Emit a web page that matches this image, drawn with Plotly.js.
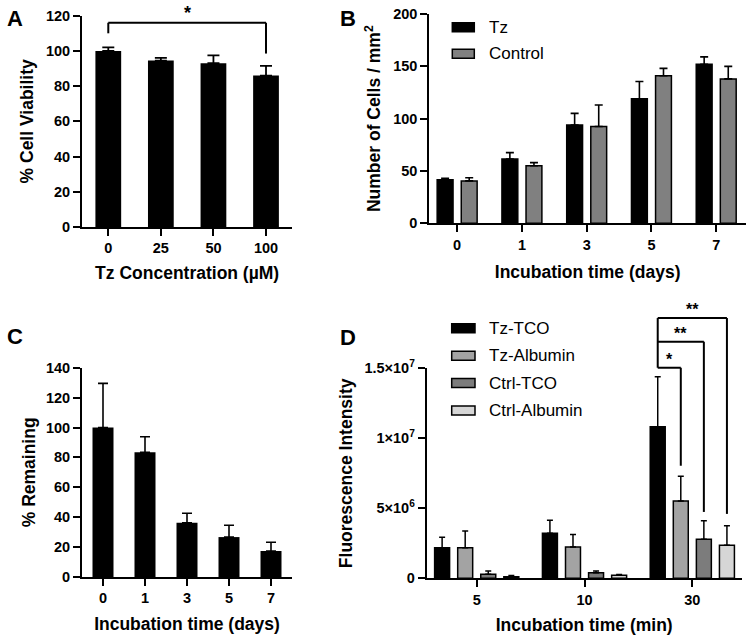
<!DOCTYPE html>
<html><head><meta charset="utf-8">
<script src="https://cdn.plot.ly/plotly-3.0.1.min.js"></script>
<style>html,body{margin:0;padding:0;background:#fff}#chart{width:750px;height:641px}</style>
</head><body><div id="chart"></div>
<script>
// ---------- Panel A: cell viability ----------
const concLabels = ['0', '25', '50', '100'];
const viability = [100, 94.5, 93, 86];
const viabilityErr = [2, 1.5, 4.5, 5.5];
// significance bracket A: [fromIndex, toIndex, level, leftLegEnd, rightLegEnd, label]
const sigA = [[0, 3, 116, 110, 98.5, '*']];

// ---------- Panel B: number of cells ----------
const daysLabels = ['0', '1', '3', '5', '7'];
const seriesB = ['Tz', 'Control'];
const cellsTz = [41.5, 61.5, 94, 119, 152];
const cellsTzErr = [1.5, 6, 11, 16.5, 7];
const cellsCtrl = [40.5, 55, 92.5, 141, 138];
const cellsCtrlErr = [3, 3, 20.5, 7, 12];

// ---------- Panel C: % remaining ----------
const remaining = [100, 83.4, 36.3, 26.7, 17.4];
const remainingErr = [29.5, 10.4, 6.3, 7.9, 5.8];

// ---------- Panel D: fluorescence ----------
const minLabels = ['5', '10', '30'];
const seriesD = ['Tz-TCO', 'Tz-Albumin', 'Ctrl-TCO', 'Ctrl-Albumin'];
const tzTco = [2.19e6, 3.21e6, 10.83e6];
const tzTcoErr = [0.74e6, 0.93e6, 3.57e6];
const tzAlb = [2.19e6, 2.24e6, 5.52e6];
const tzAlbErr = [1.19e6, 0.88e6, 1.77e6];
const ctrlTco = [0.29e6, 0.40e6, 2.79e6];
const ctrlTcoErr = [0.23e6, 0.12e6, 1.32e6];
const ctrlAlb = [0.11e6, 0.21e6, 2.36e6];
const ctrlAlbErr = [0.09e6, 0.06e6, 1.40e6];
const dTickVals = [0, 5e6, 1e7, 1.5e7];
const dTickText = ['0', '5×10<sup>6</sup>', '1×10<sup>7</sup>', '1.5×10<sup>7</sup>'];
// significance brackets D (in group '30'): [fromSeries, toSeries, level, rightLegEnd, label]
const sigD = [[0, 1, 15.04e6, 8.04e6, '*'], [0, 2, 16.9e6, 4.74e6, '**'], [0, 3, 18.59e6, 4.6e6, '**']];

// ---------- styling / layout ----------
const F = 'Liberation Sans, Arial, Helvetica, sans-serif';
const W = 750, H = 641;
const px = v => v / W;
const py = v => 1 - v / H;
const zeros = a => a.map(() => 0);

const colorsB = ['#000000', '#808080'];
const colorsD = ['#000000', '#a3a3a3', '#7c7c7c', '#d6d6d6'];

function errY(arr, w, th) {
  return {type: 'data', array: arr, arrayminus: zeros(arr), symmetric: false,
          visible: true, color: '#000', thickness: th, width: w};
}
function xAx(dom, anchor, labels, range, title, standoff) {
  return {domain: dom, anchor: anchor, type: 'category', categoryorder: 'array', categoryarray: labels,
    range: range, showline: true, linecolor: '#000', linewidth: 2, ticks: 'outside',
    ticklen: 7, tickwidth: 2, tickcolor: '#000', showgrid: false, zeroline: false,
    fixedrange: true, automargin: false,
    tickfont: {family: F, size: 14.5, color: '#000', weight: 'bold'},
    title: {text: title, standoff: standoff, font: {family: F, size: 17.5, color: '#000', weight: 'bold'}}};
}
function yAx(dom, anchor, range, extra, title, standoff) {
  return Object.assign({domain: dom, anchor: anchor, range: range, showline: true, linecolor: '#000',
    linewidth: 2, ticks: 'outside', ticklen: 7, tickwidth: 2, tickcolor: '#000',
    showgrid: false, zeroline: false, fixedrange: true, automargin: false,
    tickfont: {family: F, size: 14.5, color: '#000', weight: 'bold'},
    title: {text: title, standoff: standoff, font: {family: F, size: 17.5, color: '#000', weight: 'bold'}}}, extra);
}

const rangeA = [-0.5, 3.5], rangeB = [-0.43, 4.46], rangeC = [-0.5, 4.5], rangeD = [-0.464, 2.458];
const yRangeA = [0, 120], yRangeB = [0, 200], yRangeC = [0, 140], yRangeD = [0, 1.5e7];

// bar geometry (category units)
const wA = 0.49, wC = 0.5;
const wB = 0.245, centersB = [-0.186, 0.186];
const wD = 0.139, slotD = 0.214;
const centersD = seriesD.map((_, k) => (k - 1.5) * slotD);

const traces = [];
traces.push({type: 'bar', x: concLabels, y: viability, xaxis: 'x', yaxis: 'y', width: wA,
  marker: {color: '#000', line: {width: 0}}, error_y: errY(viabilityErr, 6, 1.8)});

const dataB = [[cellsTz, cellsTzErr], [cellsCtrl, cellsCtrlErr]];
dataB.forEach((d, k) => traces.push({type: 'bar', name: seriesB[k], x: daysLabels, y: d[0],
  xaxis: 'x2', yaxis: 'y2', width: wB, offset: centersB[k] - wB / 2,
  marker: {color: colorsB[k], line: {color: '#000', width: 1.5}}, error_y: errY(d[1], 4, 1.6)}));

traces.push({type: 'bar', x: daysLabels, y: remaining, xaxis: 'x3', yaxis: 'y3', width: wC,
  marker: {color: '#000', line: {width: 0}}, error_y: errY(remainingErr, 5, 1.6)});

const dataD = [[tzTco, tzTcoErr], [tzAlb, tzAlbErr], [ctrlTco, ctrlTcoErr], [ctrlAlb, ctrlAlbErr]];
dataD.forEach((d, k) => traces.push({type: 'bar', name: seriesD[k], x: minLabels, y: d[0],
  xaxis: 'x4', yaxis: 'y4', width: wD, offset: centersD[k] - wD / 2,
  marker: {color: colorsD[k], line: {color: '#000', width: 1.5}}, error_y: errY(d[1], 3, 1.5)}));

const shapes = [], annotations = [];
const line = (xref, yref, x0, y0, x1, y1) => shapes.push({type: 'line', xref, yref, x0, y0, x1, y1,
  line: {color: '#000', width: 2}});

// Panel A significance
const domA = p => (p - rangeA[0]) / (rangeA[1] - rangeA[0]);
sigA.forEach(s => {
  const x0 = domA(s[0]), x1 = domA(s[1]), yl = s[2] / yRangeA[1];
  line('x domain', 'y domain', x0, yl, x1, yl);
  line('x domain', 'y domain', x0, yl, x0, s[3] / yRangeA[1]);
  line('x domain', 'y domain', x1, yl, x1, s[4] / yRangeA[1]);
  annotations.push({xref: 'x domain', yref: 'y domain', x: (x0 + x1) / 2, y: yl, text: s[5],
    showarrow: false, xanchor: 'center', yanchor: 'bottom', yshift: -2,
    font: {family: F, size: 18, color: '#000', weight: 'bold'}});
});

// Panel D significance (group '30')
const domD = p => (p - rangeD[0]) / (rangeD[1] - rangeD[0]);
const g30 = minLabels.indexOf('30');
const levels = sigD.map(s => s[2]);
const xLeft = domD(g30 + centersD[0]);
line('x4 domain', 'y4 domain', xLeft, Math.min(...levels) / yRangeD[1], xLeft, Math.max(...levels) / yRangeD[1]);
sigD.forEach(s => {
  const xr = domD(g30 + centersD[s[1]]), yl = s[2] / yRangeD[1];
  line('x4 domain', 'y4 domain', xLeft, yl, xr, yl);
  line('x4 domain', 'y4 domain', xr, yl, xr, s[3] / yRangeD[1]);
  annotations.push({xref: 'x4 domain', yref: 'y4 domain', x: (xLeft + xr) / 2, y: yl, text: s[4],
    showarrow: false, xanchor: 'center', yanchor: 'bottom', yshift: -2,
    font: {family: F, size: 16, color: '#000', weight: 'bold'}});
});

// Manual legends
function legend(names, colors, boxX0, boxX1, rowY0, rowStep, textX) {
  names.forEach((n, k) => {
    const yc = rowY0 + k * rowStep;
    shapes.push({type: 'rect', xref: 'paper', yref: 'paper', x0: px(boxX0), x1: px(boxX1),
      y0: py(yc + 4.5), y1: py(yc - 4.5), fillcolor: colors[k], line: {color: '#000', width: 1.5}});
    annotations.push({xref: 'paper', yref: 'paper', x: px(textX), y: py(yc), text: n, showarrow: false,
      xanchor: 'left', yanchor: 'middle', font: {family: F, size: 17, color: '#000'}});
  });
}
legend(seriesB, colorsB, 452.3, 474.3, 27.2, 26.5, 487);
legend(seriesD, colorsD, 451.7, 475, 328.3, 27.4, 486.5);

// Panel letters
[['A', 15, 18], ['B', 348, 18], ['C', 15, 336], ['D', 348, 338]].forEach(l => annotations.push({
  xref: 'paper', yref: 'paper', x: px(l[1]), y: py(l[2]), text: l[0], showarrow: false,
  xanchor: 'center', yanchor: 'middle', font: {family: F, size: 22, color: '#000', weight: 'bold'}}));

const layout = {
  width: W, height: H, margin: {l: 0, r: 0, t: 0, b: 0, pad: 0},
  paper_bgcolor: '#fff', plot_bgcolor: '#fff', showlegend: false, barmode: 'overlay',
  font: {family: F, color: '#000'},
  xaxis: xAx([px(82), px(292.3)], 'y', concLabels, rangeA, 'Tz Concentration (µM)', 11),
  yaxis: yAx([py(227), py(15.7)], 'x', yRangeA, {dtick: 20, tick0: 0}, '% Cell Viability', 8),
  xaxis2: xAx([px(429.3), px(746)], 'y2', daysLabels, rangeB, 'Incubation time (days)', 14),
  yaxis2: yAx([py(223.3), py(14)], 'x2', yRangeB, {dtick: 50, tick0: 0}, 'Number of Cells / mm<sup>2</sup>', 8),
  xaxis3: xAx([px(82), px(292)], 'y3', daysLabels, rangeC, 'Incubation time (days)', 12),
  yaxis3: yAx([py(577), py(367.7)], 'x3', yRangeC, {dtick: 20, tick0: 0}, '% Remaining', 6),
  xaxis4: xAx([px(426.7), px(741.7)], 'y4', minLabels, rangeD, 'Incubation time (min)', 12),
  yaxis4: yAx([py(578.3), py(368.3)], 'x4', yRangeD, {tickmode: 'array', tickvals: dTickVals, ticktext: dTickText}, 'Fluorescence Intensity', 7),
  shapes: shapes, annotations: annotations
};

Plotly.newPlot('chart', traces, layout, {displayModeBar: false, staticPlot: true});
</script>
</body></html>
